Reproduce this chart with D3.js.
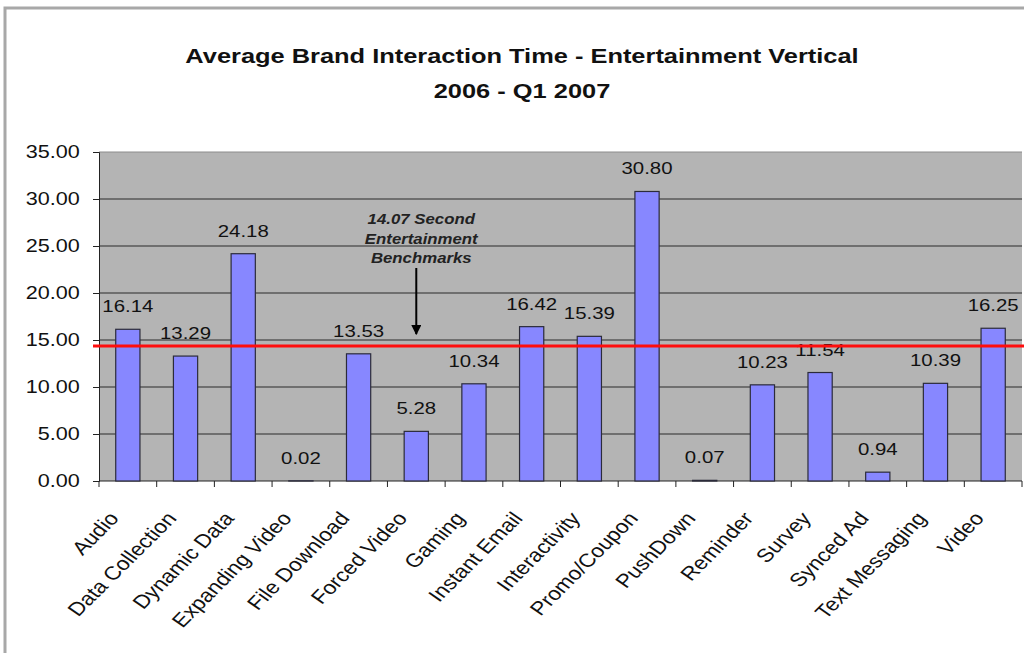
<!DOCTYPE html>
<html>
<head>
<meta charset="utf-8">
<script src="https://cdn.jsdelivr.net/npm/d3@7"></script>
<style>
  body { margin: 0; background: #fff; }
  svg { display: block; font-family: "Liberation Sans", Arial, sans-serif; }
</style>
</head>
<body>
<svg id="chart" width="1024" height="653"></svg>
<script>
// chart data
const categories = ['Audio', 'Data Collection', 'Dynamic Data', 'Expanding Video', 'File Download',
  'Forced Video', 'Gaming', 'Instant Email', 'Interactivity', 'Promo/Coupon', 'PushDown',
  'Reminder', 'Survey', 'Synced Ad', 'Text Messaging', 'Video'];
const seconds = [16.14, 13.29, 24.18, 0.02, 13.53, 5.28, 10.34, 16.42, 15.39, 30.80, 0.07,
  10.23, 11.54, 0.94, 10.39, 16.25];
const yTicks = [0, 5, 10, 15, 20, 25, 30, 35];
const titleLines = ['Average Brand Interaction Time - Entertainment Vertical', '2006 - Q1 2007'];
const benchmarkLabel = ['14.07 Second', 'Entertainment', 'Benchmarks'];
const benchmarkDrawn = 14.35; // where the red line sits in the picture

// the source image is stretched sideways, so text gets the same stretch
const sx = 1.2;

const svg = d3.select('#chart');
const margin = { top: 152, right: 2, bottom: 172, left: 99 };
const width = 1024 - margin.left - margin.right;
const height = 653 - margin.top - margin.bottom;

// outer frame
svg.append('rect')
  .attr('x', 5).attr('y', 8).attr('width', 1030).attr('height', 660)
  .attr('fill', 'none').attr('stroke', '#a8a8a8').attr('stroke-width', 3);

// title
svg.selectAll('.title')
  .data(titleLines)
  .enter()
  .append('text')
  .attr('class', 'title')
  .attr('transform', (d, i) => `translate(522,${63 + i * 35}) scale(1.27,1)`)
  .attr('text-anchor', 'middle')
  .style('font-size', '20px')
  .style('font-weight', 'bold')
  .attr('fill', '#111')
  .text(d => d);

const g = svg.append('g').attr('transform', `translate(${margin.left},${margin.top})`);

const x = d3.scaleBand().domain(categories).range([0, width]).paddingInner(0.58).paddingOuter(0.29);
const y = d3.scaleLinear().domain([0, 35]).range([height, 0]);

// plot background
g.append('rect')
  .attr('width', width).attr('height', height)
  .attr('fill', '#b4b4b4');
g.append('line')
  .attr('x1', 0).attr('x2', width).attr('y1', 0).attr('y2', 0)
  .attr('stroke', '#8c8c8c');

// gridlines
g.selectAll('.grid')
  .data(yTicks.filter(t => t > 0 && t < 35))
  .enter()
  .append('line')
  .attr('x1', 0).attr('x2', width)
  .attr('y1', d => y(d)).attr('y2', d => y(d))
  .attr('stroke', '#2a2a2a').attr('stroke-width', 1);

// y axis
const yAxis = g.append('g')
  .call(d3.axisLeft(y).tickValues(yTicks).tickFormat(d3.format('.2f')).tickSize(6).tickPadding(10));
yAxis.select('.domain').attr('stroke', '#222');
yAxis.selectAll('.tick line').attr('stroke', '#222');
yAxis.selectAll('text')
  .style('font-size', '18px')
  .attr('fill', '#111')
  .attr('transform', `scale(${sx},1)`);

// x axis with ticks on band edges
const xAxis = g.append('g').attr('transform', `translate(0,${height})`);
xAxis.append('line')
  .attr('x1', 0).attr('x2', width)
  .attr('stroke', '#222');
xAxis.selectAll('.edge')
  .data(d3.range(categories.length + 1))
  .enter()
  .append('line')
  .attr('x1', i => i * x.step()).attr('x2', i => i * x.step())
  .attr('y1', 0).attr('y2', 6)
  .attr('stroke', '#222');
// rotate a bit past 45 so the stretched labels come out at 45 degrees
xAxis.selectAll('.cat')
  .data(categories)
  .enter()
  .append('text')
  .attr('text-anchor', 'end')
  .attr('transform', d => `translate(${x(d) + x.bandwidth() / 2 - 8},38) scale(${sx},1) rotate(-50)`)
  .style('font-size', '19px')
  .attr('fill', '#111')
  .text(d => d);

// bars
g.selectAll('.bar')
  .data(seconds)
  .enter()
  .append('rect')
  .attr('x', (d, i) => x(categories[i]))
  .attr('width', x.bandwidth())
  .attr('y', d => y(d))
  .attr('height', d => height - y(d))
  .attr('fill', '#8787ff')
  .attr('stroke', '#2b2b3a')
  .attr('stroke-width', 1.2);

// value labels
g.selectAll('.val')
  .data(seconds)
  .enter()
  .append('text')
  .attr('transform', (d, i) => `translate(${x(categories[i]) + x.bandwidth() / 2},${y(d) - 17}) scale(${sx},1)`)
  .attr('text-anchor', 'middle')
  .style('font-size', '17px')
  .attr('fill', '#111')
  .text(d => d3.format('.2f')(d));

// benchmark annotation, placed over Forced Video
const annX = x('Forced Video') + x.bandwidth() / 2;
g.selectAll('.ann')
  .data(benchmarkLabel)
  .enter()
  .append('text')
  .attr('transform', (d, i) => `translate(${annX + 5},${72 + i * 19.5}) scale(${sx},1)`)
  .attr('text-anchor', 'middle')
  .style('font-size', '14px')
  .style('font-weight', 'bold')
  .style('font-style', 'italic')
  .attr('fill', '#222')
  .text(d => d);

svg.append('defs').append('marker')
  .attr('id', 'arrow')
  .attr('viewBox', '0 0 10 10')
  .attr('refX', 9).attr('refY', 5)
  .attr('markerWidth', 5).attr('markerHeight', 5)
  .attr('orient', 'auto')
  .append('path')
  .attr('d', 'M0,0L10,5L0,10z')
  .attr('fill', '#000');

g.append('line')
  .attr('x1', annX).attr('x2', annX)
  .attr('y1', 116).attr('y2', y(benchmarkDrawn) - 12)
  .attr('stroke', '#000').attr('stroke-width', 2)
  .attr('marker-end', 'url(#arrow)');

// benchmark line
g.append('line')
  .attr('x1', -6).attr('x2', width + 10)
  .attr('y1', y(benchmarkDrawn)).attr('y2', y(benchmarkDrawn))
  .attr('stroke', '#ff0d0d').attr('stroke-width', 3);
</script>
</body>
</html>
